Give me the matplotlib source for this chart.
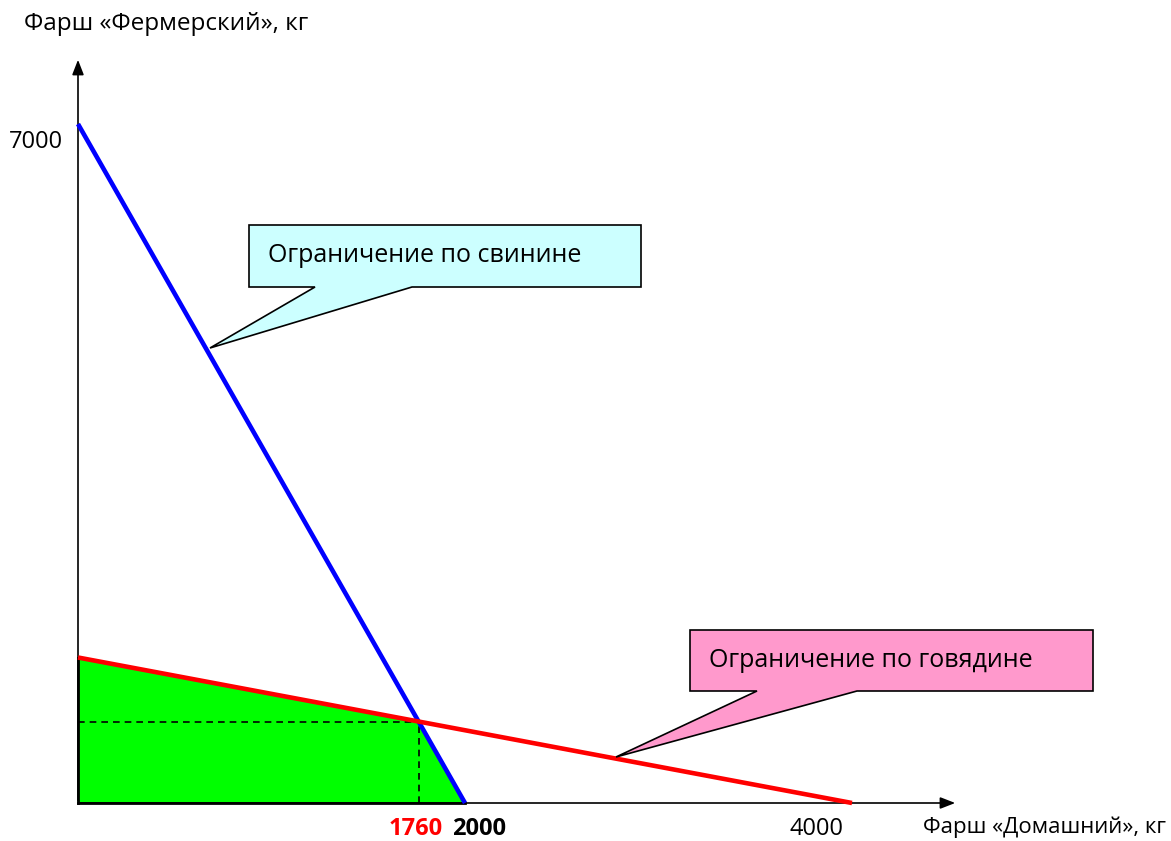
import numpy as np
import matplotlib.pyplot as plt
from matplotlib.patches import Polygon

plt.rcParams['font.family'] = ['Open Sans', 'DejaVu Sans']

# constraint lines (x = Домашний, y = Фермерский)
pork_x = [0, 2000]
pork_y = [7000, 0]
beef_x = [0, 4000]
beef_y = [1500, 0]
opt_x, opt_y = 1760, 840
feasible_x = [0, 0, 1760, 2000]
feasible_y = [0, 1500, 840, 0]

W, H = 1171, 841
ox, oy = 78, 803
sx, sy = 0.1935, 0.0970


def px(x, y):
    # pixel position -> data coords
    return ((x - ox) / sx, (oy - y) / sy)


fig = plt.figure(figsize=(W / 100, H / 100), dpi=100)
ax = fig.add_axes([0, 0, 1, 1])
ax.set_xlim(-ox / sx, (W - ox) / sx)
ax.set_ylim(-(H - oy) / sy, oy / sy)
ax.axis('off')

# axes with arrows
ax.annotate('', xy=px(958, oy), xytext=(0, 0),
            arrowprops=dict(arrowstyle='-|>,head_length=0.9,head_width=0.35', color='black', lw=1.2))
ax.annotate('', xy=px(ox, 57), xytext=(0, 0),
            arrowprops=dict(arrowstyle='-|>,head_length=0.9,head_width=0.35', color='black', lw=1.2))

# feasible region
ax.fill(feasible_x, feasible_y, color='#00FF00', zorder=2)
ax.plot(feasible_x[:2], feasible_y[:2], color='black', lw=2, zorder=3)
ax.plot([feasible_x[0], feasible_x[-1]], [feasible_y[0], feasible_y[-1]], color='black', lw=2, zorder=3)

ax.plot([0, opt_x], [opt_y, opt_y], color='black', ls=(0, (4, 3)), lw=1.2, zorder=3)
ax.plot([opt_x, opt_x], [0, opt_y], color='black', ls=(0, (4, 3)), lw=1.2, zorder=3)

ax.plot(pork_x, pork_y, color='#0000FF', lw=3.3, zorder=4, solid_capstyle='butt')
ax.plot(beef_x, beef_y, color='#FF0000', lw=3.3, zorder=4, solid_capstyle='butt')


def callout(box, base, tip, color, text):
    x0, y0, x1, y1 = box
    pts = [(x0, y0), (x1, y0), (x1, y1), (base[1], y1), tip, (base[0], y1), (x0, y1)]
    ax.add_patch(Polygon([px(*p) for p in pts], closed=True, facecolor=color,
                         edgecolor='black', lw=1.2, zorder=5))
    ax.text(*px(x0 + 19, (y0 + y1) / 2), text, fontsize=18, va='center', ha='left', zorder=6)


callout((249, 225, 641, 287), (315, 412), (210, 348), '#CCFFFF', 'Ограничение по свинине')
callout((690, 630, 1093, 691), (757, 857), (616, 757), '#FF99CC', 'Ограничение по говядине')

# labels
fs = 17
ax.text(*px(24, 24), 'Фарш «Фермерский», кг', fontsize=17.5, va='center', ha='left')
ax.text(*px(9, 142), '7000', fontsize=fs, va='center', ha='left')
ax.text(*px(1166, 827), 'Фарш «Домашний», кг', fontsize=16, va='center', ha='right')
ax.text(*px(443, 829), '1760', fontsize=fs, va='center', ha='right',
        color='#FF0000', fontweight='bold')
ax.text(*px(452, 829), '2000', fontsize=fs, va='center', ha='left', fontweight='bold')
ax.text(*px(844, 829), '4000', fontsize=fs, va='center', ha='right')

fig.savefig('out.png', dpi=100)
